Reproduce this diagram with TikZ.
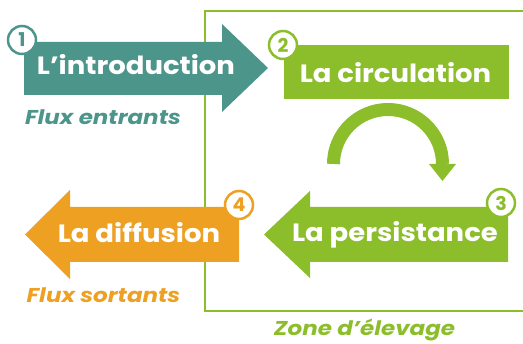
\documentclass[tikz,border=0pt]{standalone}
\usepackage{fontspec}
\setmainfont{Poppins}
\definecolor{teal1}{HTML}{4B958B}
\definecolor{green1}{HTML}{8CBE2C}
\definecolor{orange1}{HTML}{EDA022}
\tikzset{
  title/.style={text=white, font=\bfseries\fontsize{25}{25}\selectfont\addfontfeature{FakeStretch=1.1}, anchor=base, inner sep=0pt},
  sub/.style={font=\bfseries\itshape\fontsize{20}{20}\selectfont\addfontfeature{FakeStretch=1.15}, anchor=base, inner sep=0pt},
  badge/.style={circle, draw=#1, fill=white, line width=2.5pt, minimum size=28pt, inner sep=0pt,
    text=#1, font=\bfseries\fontsize{19}{19}\selectfont}
}
\begin{document}
\begin{tikzpicture}[x=1pt, y=-1pt]
  \useasboundingbox (0,0) rectangle (523,344);
  % zone d'elevage
  \draw [green1, line width=2.5pt] (530,11) -- (205,11) -- (205,311) -- (530,311);
  \node[sub, text=green1] (zone) at (364.5,336) {Zone d’élevage};
  % 1
  \fill [teal1] (24,42) -- (222,42) -- (222,24) -- (268,68) -- (222,112) -- (222,95) -- (24,95) -- cycle;
  \node[title] (intro) at (136,75) {L’introduction};
  \node[badge=teal1] (n1) at (22,40) {1};
  \node[sub, text=teal1] (entr) at (103,125) {Flux entrants};
  % 2
  \fill [green1] (284,45) rectangle (509,99);
  \node[title] (circ) at (395.5,83) {La circulation};
  \node[badge=green1] (n2) at (283,45) {2};
  \draw [green1, line width=13pt] (333.5,164) arc [start angle=180, end angle=360, radius=54.5];
  \fill [green1] (429,164) -- (456,164) -- (442.5,181) -- cycle;
  % 3
  \fill [green1] (508,207) -- (310,207) -- (310,191) -- (264,234.5) -- (310,278) -- (310,262) -- (508,262) -- cycle;
  \node[title] (pers) at (395,242) {La persistance};
  \node[badge=green1] (n3) at (501,203) {3};
  % 4
  \fill [orange1] (239,207) -- (70,207) -- (70,190) -- (25,234.5) -- (70,279) -- (70,262) -- (239,262) -- cycle;
  \node[title] (diff) at (139,243) {La diffusion};
  \node[badge=orange1] (n4) at (239,205) {4};
  \node[sub, text=orange1] (sort) at (103.5,303) {Flux sortants};
\end{tikzpicture}
\end{document}
